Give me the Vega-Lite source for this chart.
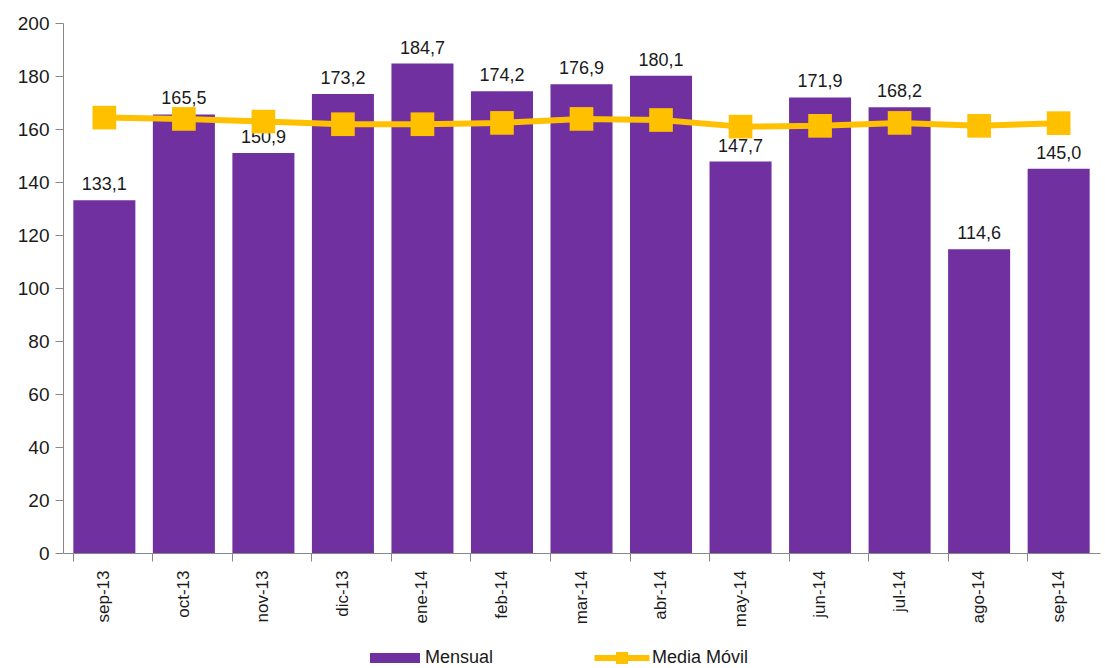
{
  "$schema": "https://vega.github.io/schema/vega-lite/v6.json",
  "width": 1037,
  "height": 530,
  "autosize": {"type": "none"},
  "padding": {"left": 63, "top": 23, "right": 5, "bottom": 115},
  "background": "white",
  "config": {
    "font": "Liberation Sans",
    "view": {"stroke": null},
    "locale": {"number": {"decimal": ",", "thousands": ".", "grouping": [3], "currency": ["", " €"]}}
  },
  "data": {
    "values": [
      {"mes": "sep-13", "mensual": 133.1, "media": 164.3},
      {"mes": "oct-13", "mensual": 165.5, "media": 163.8},
      {"mes": "nov-13", "mensual": 150.9, "media": 162.8},
      {"mes": "dic-13", "mensual": 173.2, "media": 161.8},
      {"mes": "ene-14", "mensual": 184.7, "media": 161.8},
      {"mes": "feb-14", "mensual": 174.2, "media": 162.3},
      {"mes": "mar-14", "mensual": 176.9, "media": 163.8},
      {"mes": "abr-14", "mensual": 180.1, "media": 163.4},
      {"mes": "may-14", "mensual": 147.7, "media": 160.9},
      {"mes": "jun-14", "mensual": 171.9, "media": 161.2},
      {"mes": "jul-14", "mensual": 168.2, "media": 162.3},
      {"mes": "ago-14", "mensual": 114.6, "media": 161.2},
      {"mes": "sep-14", "mensual": 145.0, "media": 162.2}
    ]
  },
  "encoding": {
    "x": {
      "field": "mes", "type": "nominal", "sort": null,
      "scale": {"paddingInner": 0.22, "paddingOuter": 0.13},
      "axis": {
        "title": null, "labelAngle": -90, "labelFontSize": 17, "labelColor": "#1a1a1a",
        "labelPadding": 9, "domainColor": "#888888", "tickColor": "#888888",
        "tickSize": 8, "bandPosition": 0, "labelBaseline": "middle", "labelAlign": "right",
        "labelOverlap": false
      }
    }
  },
  "layer": [
    {
      "mark": {"type": "bar", "color": "#7030A0"},
      "encoding": {
        "y": {
          "field": "mensual", "type": "quantitative",
          "scale": {"domain": [0, 200], "nice": false},
          "axis": {
            "title": null, "grid": false, "values": [0,20,40,60,80,100,120,140,160,180,200],
            "labelOverlap": false,
            "labelFontSize": 19, "labelColor": "#1a1a1a", "domainColor": "#888888",
            "tickColor": "#888888", "tickSize": 8, "labelPadding": 6
          }
        },
        "color": {
          "datum": "Mensual", "type": "nominal",
          "scale": {"domain": ["Mensual", "Media Móvil"], "range": ["#7030A0", "#FFC000"]},
          "legend": {
            "title": null, "orient": "none", "direction": "horizontal",
            "legendX": 322, "legendY": 625,
            "labelFontSize": 18, "labelColor": "#1a1a1a", "labelOffset": 20,
            "columnPadding": 100, "symbolSize": 400, "symbolStrokeWidth": 0,
            "encode": {
              "symbols": {
                "update": {
                  "shape": {"signal": "datum.value === 'Mensual' ? 'M-2.5,-0.5H2.5V0.5H-2.5Z' : 'M-2.75,-0.3H2.75V0.3H-2.75Z M-0.6,-0.6H0.6V0.6H-0.6Z'"},
                  "fillOpacity": {"value": 1}
                }
              }
            }
          }
        }
      }
    },
    {
      "mark": {"type": "text", "dy": -10, "baseline": "alphabetic", "fontSize": 18, "color": "#1a1a1a"},
      "encoding": {
        "y": {"field": "mensual", "type": "quantitative"},
        "text": {"field": "mensual", "type": "quantitative", "format": ".1f"}
      }
    },
    {
      "mark": {"type": "line", "strokeWidth": 6, "color": "#FFC000"},
      "encoding": {
        "y": {"field": "media", "type": "quantitative"},
        "color": {"datum": "Media Móvil", "type": "nominal"}
      }
    },
    {
      "mark": {"type": "point", "shape": "square", "filled": true, "size": 560, "opacity": 1, "color": "#FFC000"},
      "encoding": {
        "y": {"field": "media", "type": "quantitative"},
        "color": {"datum": "Media Móvil", "type": "nominal"}
      }
    }
  ]
}
